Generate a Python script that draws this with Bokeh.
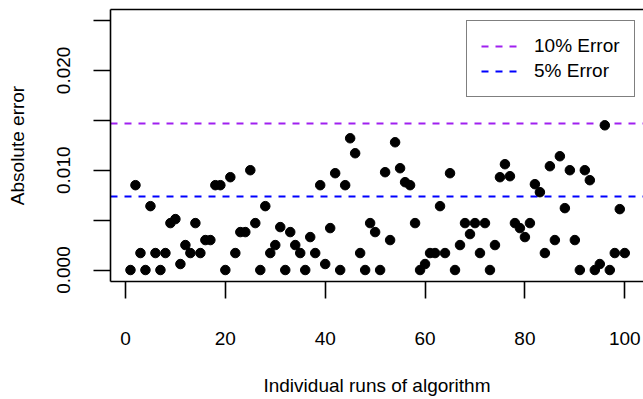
from bokeh.plotting import figure
from bokeh.models import (Range1d, FixedTicker, LinearAxis, Legend, LegendItem,
                          CustomJSTickFormatter)
from bokeh.embed import file_html
from bokeh.resources import INLINE

# ---- data ----
runs = list(range(1, 101))
abs_error = [
    0.0000, 0.0085, 0.0017, 0.0000, 0.0064, 0.0017, 0.0000, 0.0017, 0.0047, 0.0051,
    0.0006, 0.0025, 0.0017, 0.0047, 0.0017, 0.0030, 0.0030, 0.0085, 0.0085, 0.0000,
    0.0093, 0.0017, 0.0038, 0.0038, 0.0100, 0.0047, 0.0000, 0.0064, 0.0017, 0.0025,
    0.0043, 0.0000, 0.0038, 0.0025, 0.0017, 0.0000, 0.0033, 0.0017, 0.0085, 0.0006,
    0.0042, 0.0097, 0.0000, 0.0085, 0.0132, 0.0117, 0.0017, 0.0000, 0.0047, 0.0038,
    0.0000, 0.0098, 0.0030, 0.0128, 0.0102, 0.0088, 0.0085, 0.0047, 0.0000, 0.0006,
    0.0017, 0.0017, 0.0064, 0.0017, 0.0097, 0.0000, 0.0025, 0.0047, 0.0036, 0.0047,
    0.0017, 0.0047, 0.0000, 0.0025, 0.0093, 0.0106, 0.0094, 0.0047, 0.0042, 0.0033,
    0.0047, 0.0086, 0.0078, 0.0017, 0.0104, 0.0030, 0.0114, 0.0062, 0.0100, 0.0030,
    0.0000, 0.0100, 0.0090, 0.0000, 0.0006, 0.0145, 0.0000, 0.0017, 0.0061, 0.0017,
]
thresholds = [0.0147, 0.00735]
threshold_labels = ["10% Error", "5% Error"]
threshold_colors = ["#A020F0", "#0000FF"]
x_ticks = [0, 20, 40, 60, 80, 100]
y_ticks = [0, 0.005, 0.01, 0.015, 0.02, 0.025]
y_tick_labels = ["0.000", "", "0.010", "", "0.020", ""]

FONT = "Liberation Sans"
FS = "19px"
LW = 1.6

p = figure(width=643, height=399,
           x_range=Range1d(-3.0, 103.75), y_range=Range1d(-0.00115, 0.0261),
           output_backend="svg", toolbar_location=None,
           min_border_left=110, min_border_right=0,
           min_border_top=9, min_border_bottom=118)
p.grid.visible = False
p.outline_line_color = None
p.background_fill_color = "white"
p.border_fill_color = "white"

# bottom axis
xa = p.xaxis[0]
xa.ticker = FixedTicker(ticks=x_ticks)
xa.axis_label = "Individual runs of algorithm"
for ax in (xa, p.yaxis[0]):
    ax.axis_line_width = LW
    ax.axis_line_color = "black"
    ax.major_tick_line_width = LW
    ax.major_tick_line_color = "black"
    ax.major_tick_out = 17
    ax.major_tick_in = 0
    ax.minor_tick_out = 0
    ax.minor_tick_in = 0
    ax.major_label_text_font = FONT
    ax.major_label_text_font_size = FS
    ax.major_label_text_color = "black"
    ax.axis_label_text_font = FONT
    ax.axis_label_text_font_size = FS
    ax.axis_label_text_font_style = "normal"
    ax.axis_label_text_color = "black"
xa.major_label_standoff = 33
xa.axis_label_standoff = 27

ya = p.yaxis[0]
ya.ticker = FixedTicker(ticks=y_ticks)
ya.formatter = CustomJSTickFormatter(args=dict(labels=y_tick_labels),
                                     code="return labels[index];")
ya.major_label_orientation = "vertical"
ya.axis_label = "Absolute error"
ya.major_label_standoff = 23
ya.axis_label_standoff = 27

# top border of the box
top = LinearAxis(ticker=FixedTicker(ticks=[]), axis_line_width=LW,
                 axis_line_color="black", major_tick_out=0, major_tick_in=0,
                 minor_tick_out=0, minor_tick_in=0,
                 major_label_text_font_size="0px")
p.add_layout(top, "above")

# threshold lines
items = []
for val, lab, col in zip(thresholds, threshold_labels, threshold_colors):
    r = p.hspan(y=[val], line_color=col, line_dash="7 7", line_width=2)
    items.append(LegendItem(label=lab, renderers=[r]))

# points
p.scatter(runs, abs_error, size=9.5, color="black")

legend = Legend(items=items, location=(356, 184),
                border_line_color="black", border_line_width=LW,
                padding=14, spacing=3, glyph_width=37, glyph_height=22,
                label_height=22, label_standoff=16,
                label_text_font=FONT, label_text_font_size=FS,
                label_text_color="black",
                background_fill_color="white", background_fill_alpha=1.0)
p.add_layout(legend, "center")

open("out.html", "w").write(file_html(p, INLINE))
